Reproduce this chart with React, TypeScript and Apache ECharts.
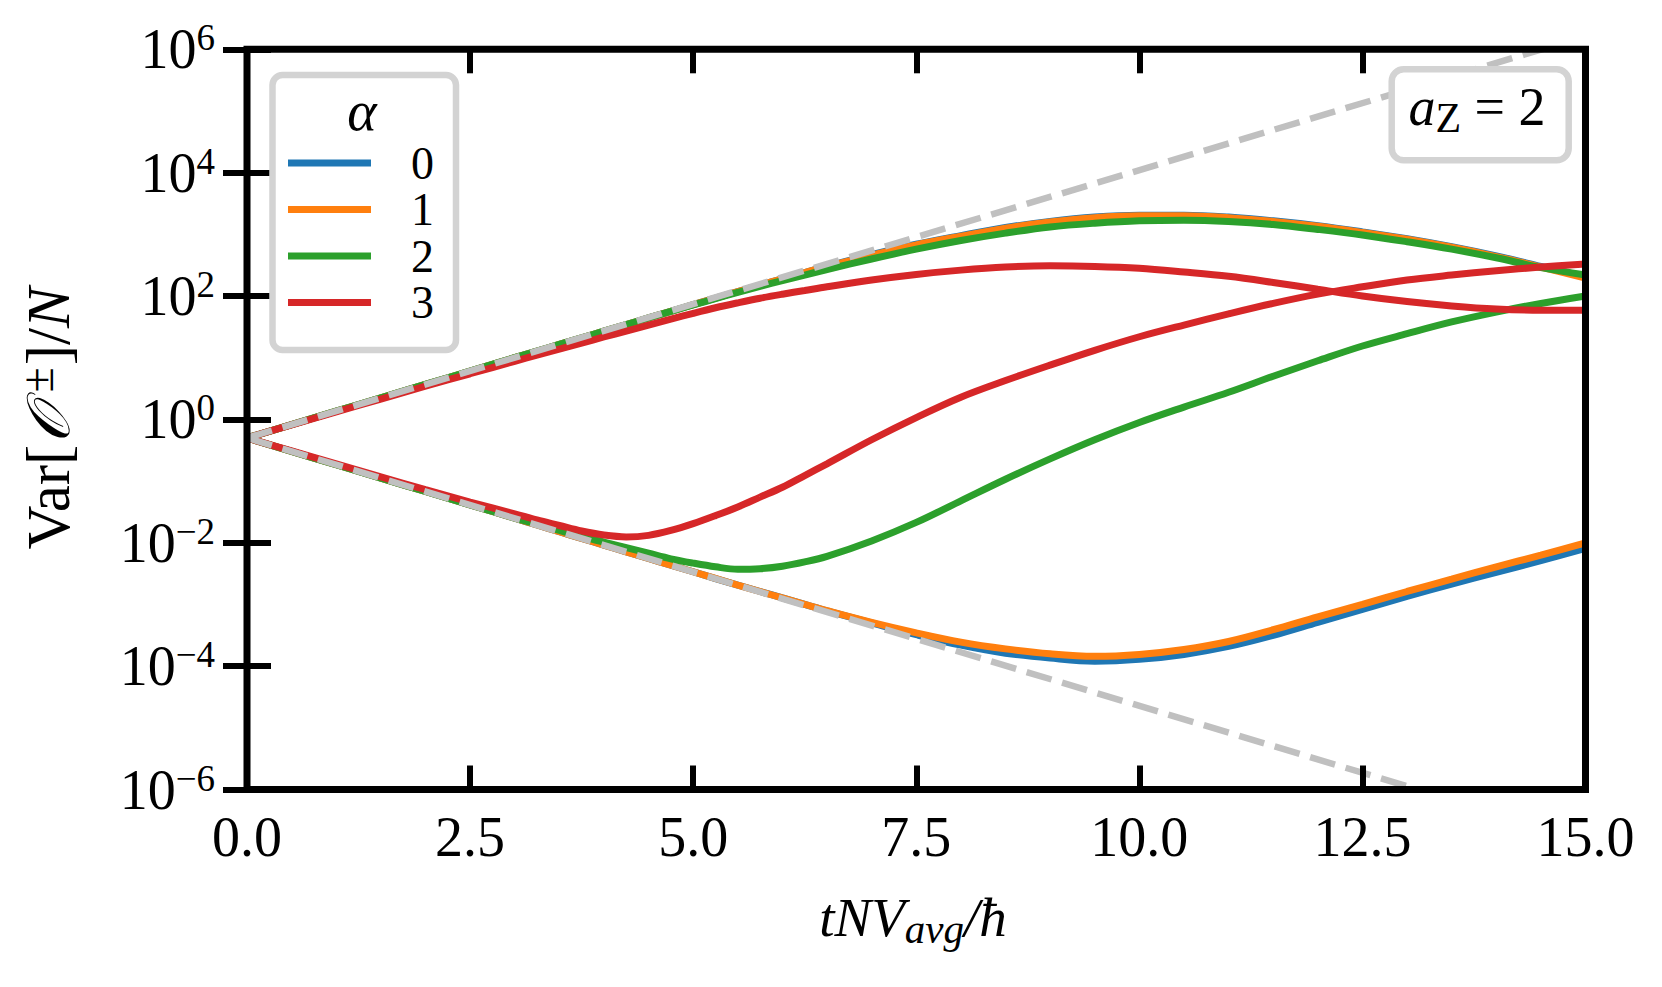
import React, { useEffect, useRef } from 'react';
import * as echarts from 'echarts';

// time axis samples  tNV_avg/ħ
const xs = [0, 0.5, 1, 1.5, 2, 2.5, 3, 3.25, 3.5, 3.75, 4, 4.25, 4.5, 4.75, 5, 5.25, 5.5, 5.75, 6, 6.25, 6.5, 7, 7.5, 8, 8.5, 9, 9.5, 10, 10.5, 11, 11.5, 12, 12.5, 13, 13.5, 14, 14.5, 15];

// log10 of Var[O±]/N
const alpha0Upper = [-0.301, -0.084, 0.133, 0.35, 0.567, 0.784, 1.0, 1.108, 1.215, 1.322, 1.43, 1.537, 1.645, 1.752, 1.86, 1.965, 2.07, 2.175, 2.28, 2.38, 2.48, 2.67, 2.84, 2.98, 3.11, 3.21, 3.28, 3.31, 3.31, 3.28, 3.22, 3.14, 3.04, 2.93, 2.8, 2.65, 2.48, 2.31];
const alpha0Lower = [-0.301, -0.518, -0.735, -0.952, -1.168, -1.385, -1.602, -1.712, -1.82, -1.93, -2.037, -2.147, -2.254, -2.364, -2.47, -2.58, -2.685, -2.79, -2.895, -3.0, -3.105, -3.3, -3.49, -3.66, -3.79, -3.87, -3.92, -3.89, -3.81, -3.68, -3.5, -3.29, -3.08, -2.87, -2.67, -2.48, -2.29, -2.09];
const alpha1Upper = [-0.301, -0.084, 0.133, 0.35, 0.567, 0.784, 1.0, 1.108, 1.215, 1.322, 1.43, 1.537, 1.645, 1.752, 1.86, 1.965, 2.07, 2.175, 2.28, 2.38, 2.48, 2.66, 2.83, 2.97, 3.1, 3.2, 3.27, 3.3, 3.3, 3.27, 3.21, 3.13, 3.03, 2.92, 2.79, 2.64, 2.47, 2.29];
const alpha1Lower = [-0.301, -0.518, -0.735, -0.952, -1.168, -1.385, -1.602, -1.712, -1.82, -1.93, -2.037, -2.147, -2.254, -2.364, -2.47, -2.578, -2.685, -2.79, -2.895, -2.998, -3.1, -3.29, -3.46, -3.61, -3.72, -3.8, -3.84, -3.81, -3.73, -3.6, -3.41, -3.2, -3.0, -2.79, -2.59, -2.39, -2.2, -2.0];
const alpha2Upper = [-0.301, -0.084, 0.133, 0.35, 0.567, 0.784, 1.0, 1.108, 1.215, 1.322, 1.43, 1.537, 1.645, 1.75, 1.855, 1.958, 2.06, 2.156, 2.25, 2.34, 2.43, 2.6, 2.76, 2.9, 3.02, 3.12, 3.18, 3.22, 3.23, 3.21, 3.16, 3.08, 2.99, 2.88, 2.76, 2.62, 2.46, 2.34];
const alpha2Lower = [-0.301, -0.518, -0.735, -0.952, -1.168, -1.385, -1.6, -1.7, -1.8, -1.9, -1.99, -2.08, -2.17, -2.26, -2.33, -2.39, -2.43, -2.42, -2.38, -2.31, -2.22, -1.97, -1.67, -1.32, -0.97, -0.64, -0.33, -0.05, 0.2, 0.44, 0.7, 0.95, 1.19, 1.39, 1.58, 1.74, 1.88, 2.0];
const alpha3Upper = [-0.301, -0.088, 0.123, 0.33, 0.538, 0.74, 0.942, 1.041, 1.14, 1.238, 1.336, 1.433, 1.53, 1.625, 1.72, 1.81, 1.89, 1.965, 2.03, 2.09, 2.15, 2.26, 2.35, 2.42, 2.47, 2.49, 2.48, 2.45, 2.39, 2.32, 2.22, 2.11, 2.0, 1.91, 1.84, 1.79, 1.77, 1.77];
const alpha3Lower = [-0.301, -0.51, -0.72, -0.93, -1.14, -1.34, -1.53, -1.63, -1.72, -1.81, -1.875, -1.905, -1.88, -1.8, -1.69, -1.56, -1.42, -1.26, -1.1, -0.91, -0.72, -0.33, 0.03, 0.36, 0.63, 0.88, 1.12, 1.34, 1.53, 1.71, 1.88, 2.03, 2.15, 2.26, 2.34, 2.41, 2.47, 2.52];

// grey dashed reference lines (straight on the log axis): end points
const refUpper = [[0, 0.5], [15, 1.63e6]];
const refLower = [[0, 0.5], [15, 1.53e-7]];

const alphaNames = ['0', '1', '2', '3'];
const alphaColors = ['#1f77b4', '#ff7f0e', '#2ca02c', '#d62728'];
const branches = [
  [alpha0Upper, alpha0Lower],
  [alpha1Upper, alpha1Lower],
  [alpha2Upper, alpha2Lower],
  [alpha3Upper, alpha3Lower],
];

const xTicks = [0, 2.5, 5, 7.5, 10, 12.5, 15];
const yTicks = [1e-6, 1e-4, 1e-2, 1, 1e2, 1e4, 1e6];

const SERIF = "'Liberation Serif', 'Times New Roman', 'DejaVu Serif', serif";

const G = { left: 247, top: 49.3, width: 1338.5, height: 740.2 };

export default function App() {
  const ref = useRef<HTMLDivElement>(null);
  useEffect(() => {
    const chart = echarts.init(ref.current!, null, { renderer: 'svg' });
    const series: any[] = [];
    branches.forEach((pair, k) => {
      pair.forEach((arr) => {
        series.push({
          type: 'line',
          name: alphaNames[k],
          data: xs.map((x, i) => [x, Math.pow(10, arr[i])]),
          showSymbol: false,
          symbol: 'none',
          smooth: 0.35,
          lineStyle: { color: alphaColors[k], width: 7 },
          itemStyle: { color: alphaColors[k] },
          xAxisIndex: 0,
          yAxisIndex: 0,
          z: 2,
        });
      });
    });
    [refUpper, refLower].forEach((d) => {
      series.push({
        type: 'line',
        name: 'ref',
        data: d,
        showSymbol: false,
        symbol: 'none',
        lineStyle: { color: '#c0c0c0', width: 6.5, type: [26, 11] },
        clip: true,
        z: 3,
      });
    });

    const tickStyle = { inside: true, length: 24, lineStyle: { color: '#000', width: 6 } };
    const yLabelFmt = (v: number) => {
      const e = Math.round(Math.log10(v));
      const s = e < 0 ? '\u2212' + -e : String(e);
      return `{b|10}{s|${s}}`;
    };

    const option: any = {
      animation: false,
      backgroundColor: '#ffffff',
      grid: { left: G.left, top: G.top, width: G.width, height: G.height, show: false },
      xAxis: [
        {
          type: 'value', min: 0, max: 15, interval: 2.5, position: 'bottom', z: 45,
          axisLine: { show: false }, splitLine: { show: false },
          axisTick: { ...tickStyle, customValues: xTicks },
          axisLabel: {
            customValues: xTicks, margin: 19,
            formatter: (v: number) => v.toFixed(1),
            color: '#000', fontFamily: SERIF, fontSize: 56, lineHeight: 56,
          },
        },
        {
          type: 'value', min: 0, max: 15, interval: 2.5, position: 'top', z: 45,
          axisLine: { show: false }, splitLine: { show: false },
          axisTick: { ...tickStyle, customValues: xTicks },
          axisLabel: { show: false },
        },
      ],
      yAxis: [
        {
          type: 'log', logBase: 10, min: 1e-6, max: 1e6, position: 'left', z: 45,
          axisLine: { show: false }, splitLine: { show: false }, minorTick: { show: false },
          axisTick: { ...tickStyle, customValues: yTicks },
          axisLabel: {
            customValues: yTicks, margin: 32, formatter: yLabelFmt,
            rich: {
              b: { fontFamily: SERIF, fontSize: 56, lineHeight: 56, color: '#000' },
              s: { fontFamily: SERIF, fontSize: 37, height: 33, lineHeight: 33, verticalAlign: 'top', color: '#000' },
            },
          },
        },
        {
          type: 'log', logBase: 10, min: 1e-6, max: 1e6, position: 'right', z: 45,
          axisLine: { show: false }, splitLine: { show: false },
          axisTick: { ...tickStyle, customValues: yTicks },
          axisLabel: { show: false },
        },
      ],
      legend: {
        orient: 'vertical',
        left: 288,
        top: 140,
        padding: 0,
        itemWidth: 83,
        itemHeight: 7,
        itemGap: 0.5,
        z: 60,
        selectedMode: false,
        data: alphaNames.map((n) => ({ name: n, icon: 'rect' })),
        textStyle: { fontFamily: SERIF, fontSize: 46, lineHeight: 46, color: '#000', padding: [0, 0, 0, 35] },
      },
      series,
      graphic: [
        {
          type: 'rect', z: 44, silent: true,
          shape: { x: G.left, y: G.top, width: G.width, height: G.height },
          style: { fill: 'none', stroke: '#000', lineWidth: 7, lineJoin: 'miter' },
        },
        {
          type: 'rect', z: 50, silent: true,
          shape: { x: 272.5, y: 75, width: 183.5, height: 275, r: 10 },
          style: { fill: '#ffffff', stroke: '#d3d3d3', lineWidth: 6.5 },
        },
        {
          type: 'text', z: 55, x: 362, y: 111, silent: true,
          style: {
            text: '\u03b1', fontFamily: SERIF, fontStyle: 'italic', fontSize: 56,
            fill: '#000', align: 'center', verticalAlign: 'middle',
          },
        },
        {
          type: 'rect', z: 50, silent: true,
          shape: { x: 1391.7, y: 69.2, width: 177, height: 91, r: 12 },
          style: { fill: '#ffffff', stroke: '#d3d3d3', lineWidth: 6.5 },
        },
        {
          type: 'text', z: 55, x: 1477, y: 107, silent: true,
          style: {
            text: '{i|a}{z|Z}{r| = 2}', align: 'center', verticalAlign: 'middle',
            rich: {
              i: { fontFamily: SERIF, fontStyle: 'italic', fontSize: 54, lineHeight: 54, fill: '#000' },
              z: { fontFamily: SERIF, fontSize: 42, height: 32, lineHeight: 32, verticalAlign: 'bottom', fill: '#000' },
              r: { fontFamily: SERIF, fontSize: 54, lineHeight: 54, fill: '#000' },
            },
          },
        },
        {
          type: 'text', z: 55, x: 48, y: 418.5, rotation: Math.PI / 2, silent: true,
          style: {
            text: '{r|Var[}{o|\u{1D4AA}}{s|\u00b1}{r|]/}{i|N}', align: 'center', verticalAlign: 'middle',
            rich: {
              r: { fontFamily: SERIF, fontSize: 61, lineHeight: 61, fill: '#000' },
              o: { fontFamily: "'DejaVu Serif', 'DejaVu Sans', 'Liberation Serif', serif", fontStyle: 'italic', fontSize: 60, lineHeight: 61, padding: [0, 12, 0, 2], fill: '#000' },
              s: { fontFamily: SERIF, fontSize: 46, height: 40, lineHeight: 40, verticalAlign: 'top', padding: [0, 2, 0, 0], fill: '#000' },
              i: { fontFamily: SERIF, fontStyle: 'italic', fontSize: 61, lineHeight: 61, fill: '#000' },
            },
          },
        },
        {
          type: 'text', z: 55, x: 913, y: 917, silent: true,
          style: {
            text: '{i|tNV}{sub|avg}{i|/\u0127}', align: 'center', verticalAlign: 'middle',
            rich: {
              i: { fontFamily: SERIF, fontStyle: 'italic', fontSize: 55, lineHeight: 55, fill: '#000' },
              sub: { fontFamily: SERIF, fontStyle: 'italic', fontSize: 41, height: 31, lineHeight: 31, verticalAlign: 'bottom', fill: '#000' },
            },
          },
        },
      ],
    };
    chart.setOption(option);
    return () => chart.dispose();
  }, []);
  return (
    <div
      ref={ref}
      style={{ position: 'fixed', left: 0, top: 0, width: 1662, height: 987, background: '#fff' }}
    />
  );
}
